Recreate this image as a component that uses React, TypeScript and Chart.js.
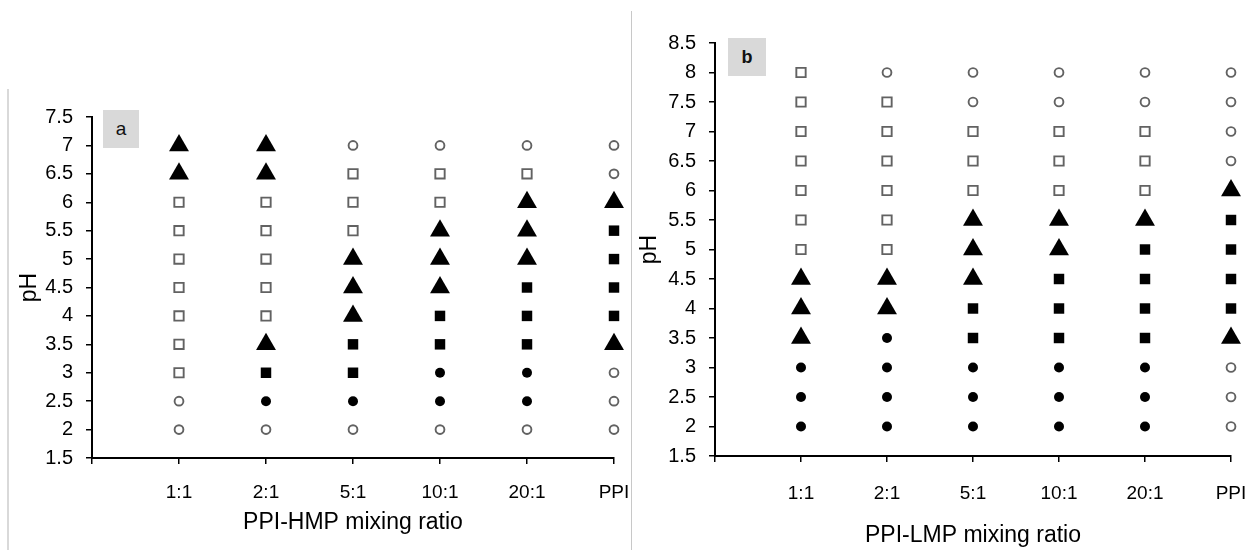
import React, { useEffect, useRef } from "react";
import { Chart, registerables } from "chart.js";

Chart.register(...registerables);

const FONT = "'Liberation Sans', Arial, sans-serif";

// x categories (PPI : polyphosphate mixing ratio)
const RATIOS = ["1:1", "2:1", "5:1", "10:1", "20:1", "PPI"];

// pH levels tested
const PH_HMP = [2, 2.5, 3, 3.5, 4, 4.5, 5, 5.5, 6, 6.5, 7];
const PH_LMP = [2, 2.5, 3, 3.5, 4, 4.5, 5, 5.5, 6, 6.5, 7, 7.5, 8];

// observed state per pH (bottom to top) for each ratio
// ○ open circle, □ open square, ▲ triangle, ■ filled square, ● filled circle
const HMP_1_1 = ["○", "○", "□", "□", "□", "□", "□", "□", "□", "▲", "▲"];
const HMP_2_1 = ["○", "●", "■", "▲", "□", "□", "□", "□", "□", "▲", "▲"];
const HMP_5_1 = ["○", "●", "■", "■", "▲", "▲", "▲", "□", "□", "□", "○"];
const HMP_10_1 = ["○", "●", "●", "■", "■", "▲", "▲", "▲", "□", "□", "○"];
const HMP_20_1 = ["○", "●", "●", "■", "■", "■", "▲", "▲", "▲", "□", "○"];
const HMP_PPI = ["○", "○", "○", "▲", "■", "■", "■", "■", "▲", "○", "○"];

const LMP_1_1 = ["●", "●", "●", "▲", "▲", "▲", "□", "□", "□", "□", "□", "□", "□"];
const LMP_2_1 = ["●", "●", "●", "●", "▲", "▲", "□", "□", "□", "□", "□", "□", "○"];
const LMP_5_1 = ["●", "●", "●", "■", "■", "▲", "▲", "▲", "□", "□", "□", "○", "○"];
const LMP_10_1 = ["●", "●", "●", "■", "■", "■", "▲", "▲", "□", "□", "□", "○", "○"];
const LMP_20_1 = ["●", "●", "●", "■", "■", "■", "■", "▲", "□", "□", "□", "○", "○"];
const LMP_PPI = ["○", "○", "○", "▲", "■", "■", "■", "■", "▲", "○", "○", "○", "○"];

const HMP_COLUMNS = [HMP_1_1, HMP_2_1, HMP_5_1, HMP_10_1, HMP_20_1, HMP_PPI];
const LMP_COLUMNS = [LMP_1_1, LMP_2_1, LMP_5_1, LMP_10_1, LMP_20_1, LMP_PPI];

const MARKER_STYLES = [
  { code: "○", pointStyle: "circle", radius: 4.4, bg: "#ffffff", border: "#626262", bw: 1.9 },
  { code: "□", pointStyle: "rect", radius: 6.6, bg: "#ffffff", border: "#626262", bw: 1.9 },
  { code: "▲", pointStyle: "triangle", radius: 11.5, bg: "#000000", border: "#000000", bw: 0 },
  { code: "■", pointStyle: "rect", radius: 7.4, bg: "#000000", border: "#000000", bw: 0 },
  { code: "●", pointStyle: "circle", radius: 5, bg: "#000000", border: "#000000", bw: 0 },
];

function buildDatasets(phs: number[], columns: string[][]) {
  return MARKER_STYLES.map((m) => {
    const data: { x: number; y: number }[] = [];
    columns.forEach((col, ci) => {
      col.forEach((c, i) => {
        if (c === m.code) data.push({ x: ci + 1, y: phs[i] });
      });
    });
    return {
      label: m.code,
      data,
      pointStyle: m.pointStyle as any,
      pointRadius: m.radius,
      pointBackgroundColor: m.bg,
      pointBorderColor: m.border,
      pointBorderWidth: m.bw,
      showLine: false,
      clip: false as any,
    };
  });
}

type PanelProps = {
  phs: number[];
  columns: string[][];
  yMax: number;
  xTitle: string;
  width: number;
  height: number;
  yWidth: number;
  xHeight: number;
  padRight: number;
  padTop: number;
  yTitlePad: number;
  xTitlePad: number;
  xTickPad: number;
};

function Panel(p: PanelProps) {
  const ref = useRef<HTMLCanvasElement | null>(null);
  useEffect(() => {
    if (!ref.current) return;
    const chart = new Chart(ref.current, {
      type: "scatter",
      data: { datasets: buildDatasets(p.phs, p.columns) as any },
      options: {
        responsive: false,
        animation: false,
        devicePixelRatio: 1,
        layout: { padding: { left: 0, right: p.padRight, top: p.padTop, bottom: 0 } },
        plugins: { legend: { display: false }, tooltip: { enabled: false } },
        scales: {
          x: {
            type: "linear",
            min: 0,
            max: 6,
            afterBuildTicks: (s: any) => {
              s.ticks = [0, 1, 2, 3, 4, 5, 6].map((v) => ({ value: v }));
            },
            afterFit: (s: any) => {
              s.height = p.xHeight;
            },
            ticks: {
              autoSkip: false,
              maxRotation: 0,
              color: "#000",
              padding: p.xTickPad,
              font: { family: FONT, size: 19 },
              callback: (v: any) => (v >= 1 && v <= 6 ? RATIOS[Math.round(v) - 1] : ""),
            },
            grid: { drawOnChartArea: false, drawTicks: true, tickLength: 6, color: "#000", lineWidth: 1.5 },
            border: { display: true, color: "#000", width: 2 },
            title: {
              display: true,
              text: p.xTitle,
              color: "#000",
              font: { family: FONT, size: 23 },
              padding: { top: 0, bottom: p.xTitlePad },
            },
          },
          y: {
            type: "linear",
            min: 1.5,
            max: p.yMax,
            afterFit: (s: any) => {
              s.width = p.yWidth;
            },
            ticks: {
              stepSize: 0.5,
              autoSkip: false,
              color: "#000",
              padding: 13,
              font: { family: FONT, size: 20 },
              callback: (v: any) => String(v),
            },
            grid: { drawOnChartArea: false, drawTicks: true, tickLength: 6, color: "#000", lineWidth: 1.5 },
            border: { display: true, color: "#000", width: 2 },
            title: {
              display: true,
              text: "pH",
              color: "#000",
              font: { family: FONT, size: 23 },
              padding: { top: p.yTitlePad, bottom: 0 },
            },
          },
        },
      } as any,
    });
    return () => chart.destroy();
  }, []);
  return <canvas ref={ref} width={p.width} height={p.height} style={{ display: "block" }} />;
}

const labelBox: React.CSSProperties = {
  position: "absolute",
  background: "#d9d9d9",
  display: "flex",
  alignItems: "center",
  justifyContent: "center",
  fontFamily: FONT,
  color: "#111",
};

export default function App() {
  return (
    <div style={{ position: "fixed", left: 0, top: 0, width: 1252, height: 550, background: "#fff", overflow: "hidden" }}>
      <div style={{ position: "absolute", left: 0, top: 0 }}>
        <Panel
          phs={PH_HMP}
          columns={HMP_COLUMNS}
          yMax={7.5}
          xTitle="PPI-HMP mixing ratio"
          width={654}
          height={550}
          yWidth={92}
          xHeight={92}
          padRight={40}
          padTop={117}
          yTitlePad={16}
          xTitlePad={14}
          xTickPad={17}
        />
      </div>
      <div style={{ position: "absolute", left: 632, top: 0 }}>
        <Panel
          phs={PH_LMP}
          columns={LMP_COLUMNS}
          yMax={8.5}
          xTitle="PPI-LMP mixing ratio"
          width={639}
          height={550}
          yWidth={83}
          xHeight={94}
          padRight={40}
          padTop={43}
          yTitlePad={4}
          xTitlePad={1}
          xTickPad={20}
        />
      </div>
      <div style={{ position: "absolute", left: 7, top: 89, width: 2, height: 461, background: "#d9d9d9" }} />
      <div style={{ position: "absolute", left: 631, top: 11, width: 1, height: 539, background: "#c8c8c8" }} />
      <div style={{ ...labelBox, left: 103, top: 110, width: 36, height: 38, fontSize: 19 }}>a</div>
      <div style={{ ...labelBox, left: 728, top: 38, width: 38, height: 38, fontSize: 18, fontWeight: "bold" }}>b</div>
    </div>
  );
}
